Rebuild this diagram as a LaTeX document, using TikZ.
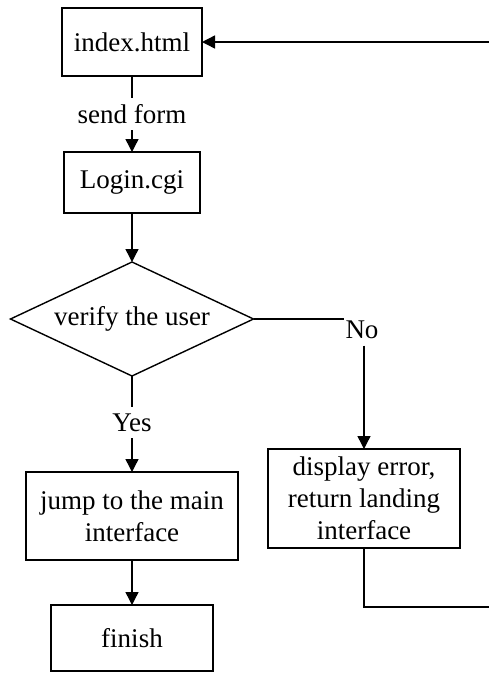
\documentclass[tikz,border=0pt]{standalone}
\usepackage{fontspec}
\setmainfont{Liberation Serif}
\usetikzlibrary{positioning, shapes.geometric, arrows.meta}

\begin{document}
\begin{tikzpicture}[x=1pt, y=-1pt, line width=1.4pt,
    font=\fontsize{27}{32}\selectfont,
    box/.style={draw, align=center, inner sep=2pt, outer sep=0pt},
    test/.style={draw, diamond, shape aspect=2.1, inner sep=0pt, outer sep=0pt,
        minimum width=243pt, minimum height=114pt},
    lbl/.style={inner xsep=1pt, inner ysep=6pt},
    arr/.style={-{Triangle[width=13pt, length=13pt]}}]
    \useasboundingbox (0,0) rectangle (489,673);
    \clip (0,0) rectangle (489,673);

    % Nodes for the main column
    \node[box, minimum width=140pt, minimum height=68pt] (index) at (132,42) {index.html};
    \node[box, minimum width=136pt, minimum height=61pt, below=76pt of index] (login) {Login.cgi};
    \node[test, below=49pt of login] (verify) {verify the user};
    \node[box, minimum width=212pt, minimum height=88pt, below=96pt of verify] (jump) {jump to the main\\interface};
    \node[box, minimum width=162pt, minimum height=66pt, below=45pt of jump] (finish) {finish};

    % Node for the error branch
    \node[box, minimum width=192pt, minimum height=99pt] (error) at (364,498.5) {display error,\\return landing\\interface};

    % Labels on the arrows
    \node[lbl] (send) at (132,114) {send form};
    \node[lbl] (yes) at (132,422.5) {Yes};
    \node[lbl] (no) at (362,330) {No};
    \coordinate (back) at (500,607);

    % Arrows
    \draw (index.south) -- (send.north);
    \draw[arr] (send.south) -- (login.north);
    \draw[arr] (login.south) -- (verify.north);
    \draw (verify.south) -- (yes.north);
    \draw[arr] (yes.south) -- (jump.north);
    \draw[arr] (jump.south) -- (finish.north);
    \draw (verify.east) -- (verify.east -| no.west);
    \draw[arr] (no.south -| error.north) -- (error.north);
    \draw[arr] (error.south) |- (back) |- (index.east);
\end{tikzpicture}
\end{document}
